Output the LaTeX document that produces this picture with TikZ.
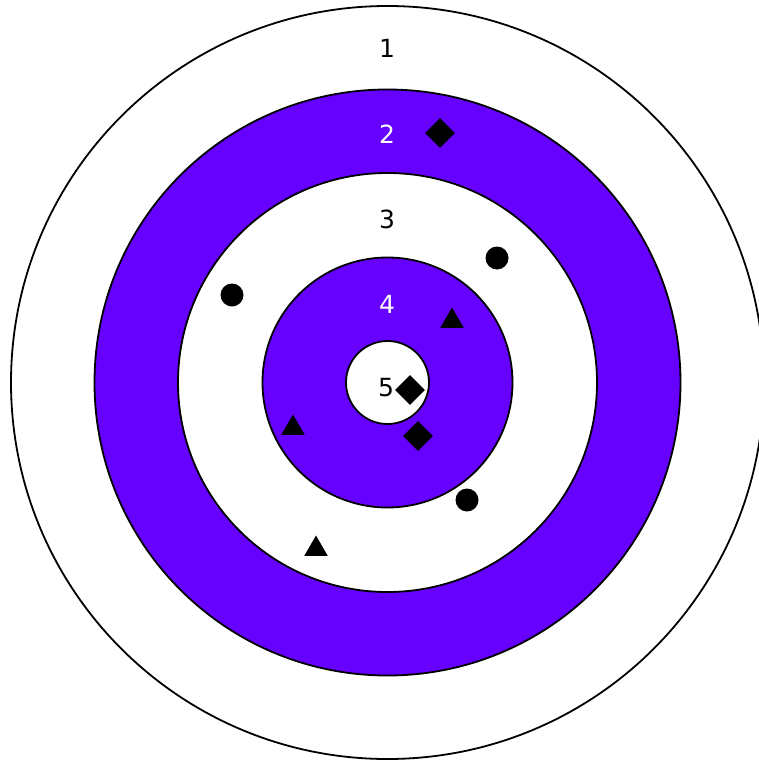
\documentclass[tikz,border=0pt]{standalone}
\usepackage{fontspec}
\setmainfont{DejaVu Sans}
\usetikzlibrary{shapes.geometric}
\definecolor{ringpurple}{HTML}{6600FF}
\tikzset{
  ring/.style={draw=black, line width=1.8pt},
  lbl/.style={font=\fontsize{25}{25}\selectfont, inner sep=0pt, anchor=center},
  dot/.style={circle, fill=black, minimum size=23pt, inner sep=0pt},
  dia/.style={diamond, fill=black, minimum size=30pt, inner sep=0pt},
  tri/.style={regular polygon, regular polygon sides=3, fill=black, minimum size=27pt, inner sep=0pt}
}
\begin{document}
\begin{tikzpicture}[x=1pt,y=-1pt]
\useasboundingbox (0,0) rectangle (759,760);
\clip (0,0) rectangle (759,760);
\coordinate (c) at (387.5,382.5);
\fill[white] (0,0) rectangle (759,760);
\draw[ring, fill=white] (c) circle[radius=376.5];
\draw[ring, fill=ringpurple] (c) circle[radius=293];
\draw[ring, fill=white] (c) circle[radius=209.5];
\draw[ring, fill=ringpurple] (c) circle[radius=125];
\draw[ring, fill=white] (c) circle[radius=41.5];
\node[lbl, text=black] (l1) at (387,48) {1};
\node[lbl, text=white] (l2) at (387,134) {2};
\node[lbl, text=black] (l3) at (387,219) {3};
\node[lbl, text=white] (l4) at (387,304) {4};
\node[lbl, text=black] (l5) at (386,388) {5};
\node[dia] (d1) at (440,133) {};
\node[dia] (d2) at (410,390) {};
\node[dia] (d3) at (418,436) {};
\node[dot] (o1) at (232,295) {};
\node[dot] (o2) at (497,258) {};
\node[dot] (o3) at (467,500) {};
\node[tri] (t1) at (452,321) {};
\node[tri] (t2) at (293,428) {};
\node[tri] (t3) at (316,549) {};
\end{tikzpicture}
\end{document}
